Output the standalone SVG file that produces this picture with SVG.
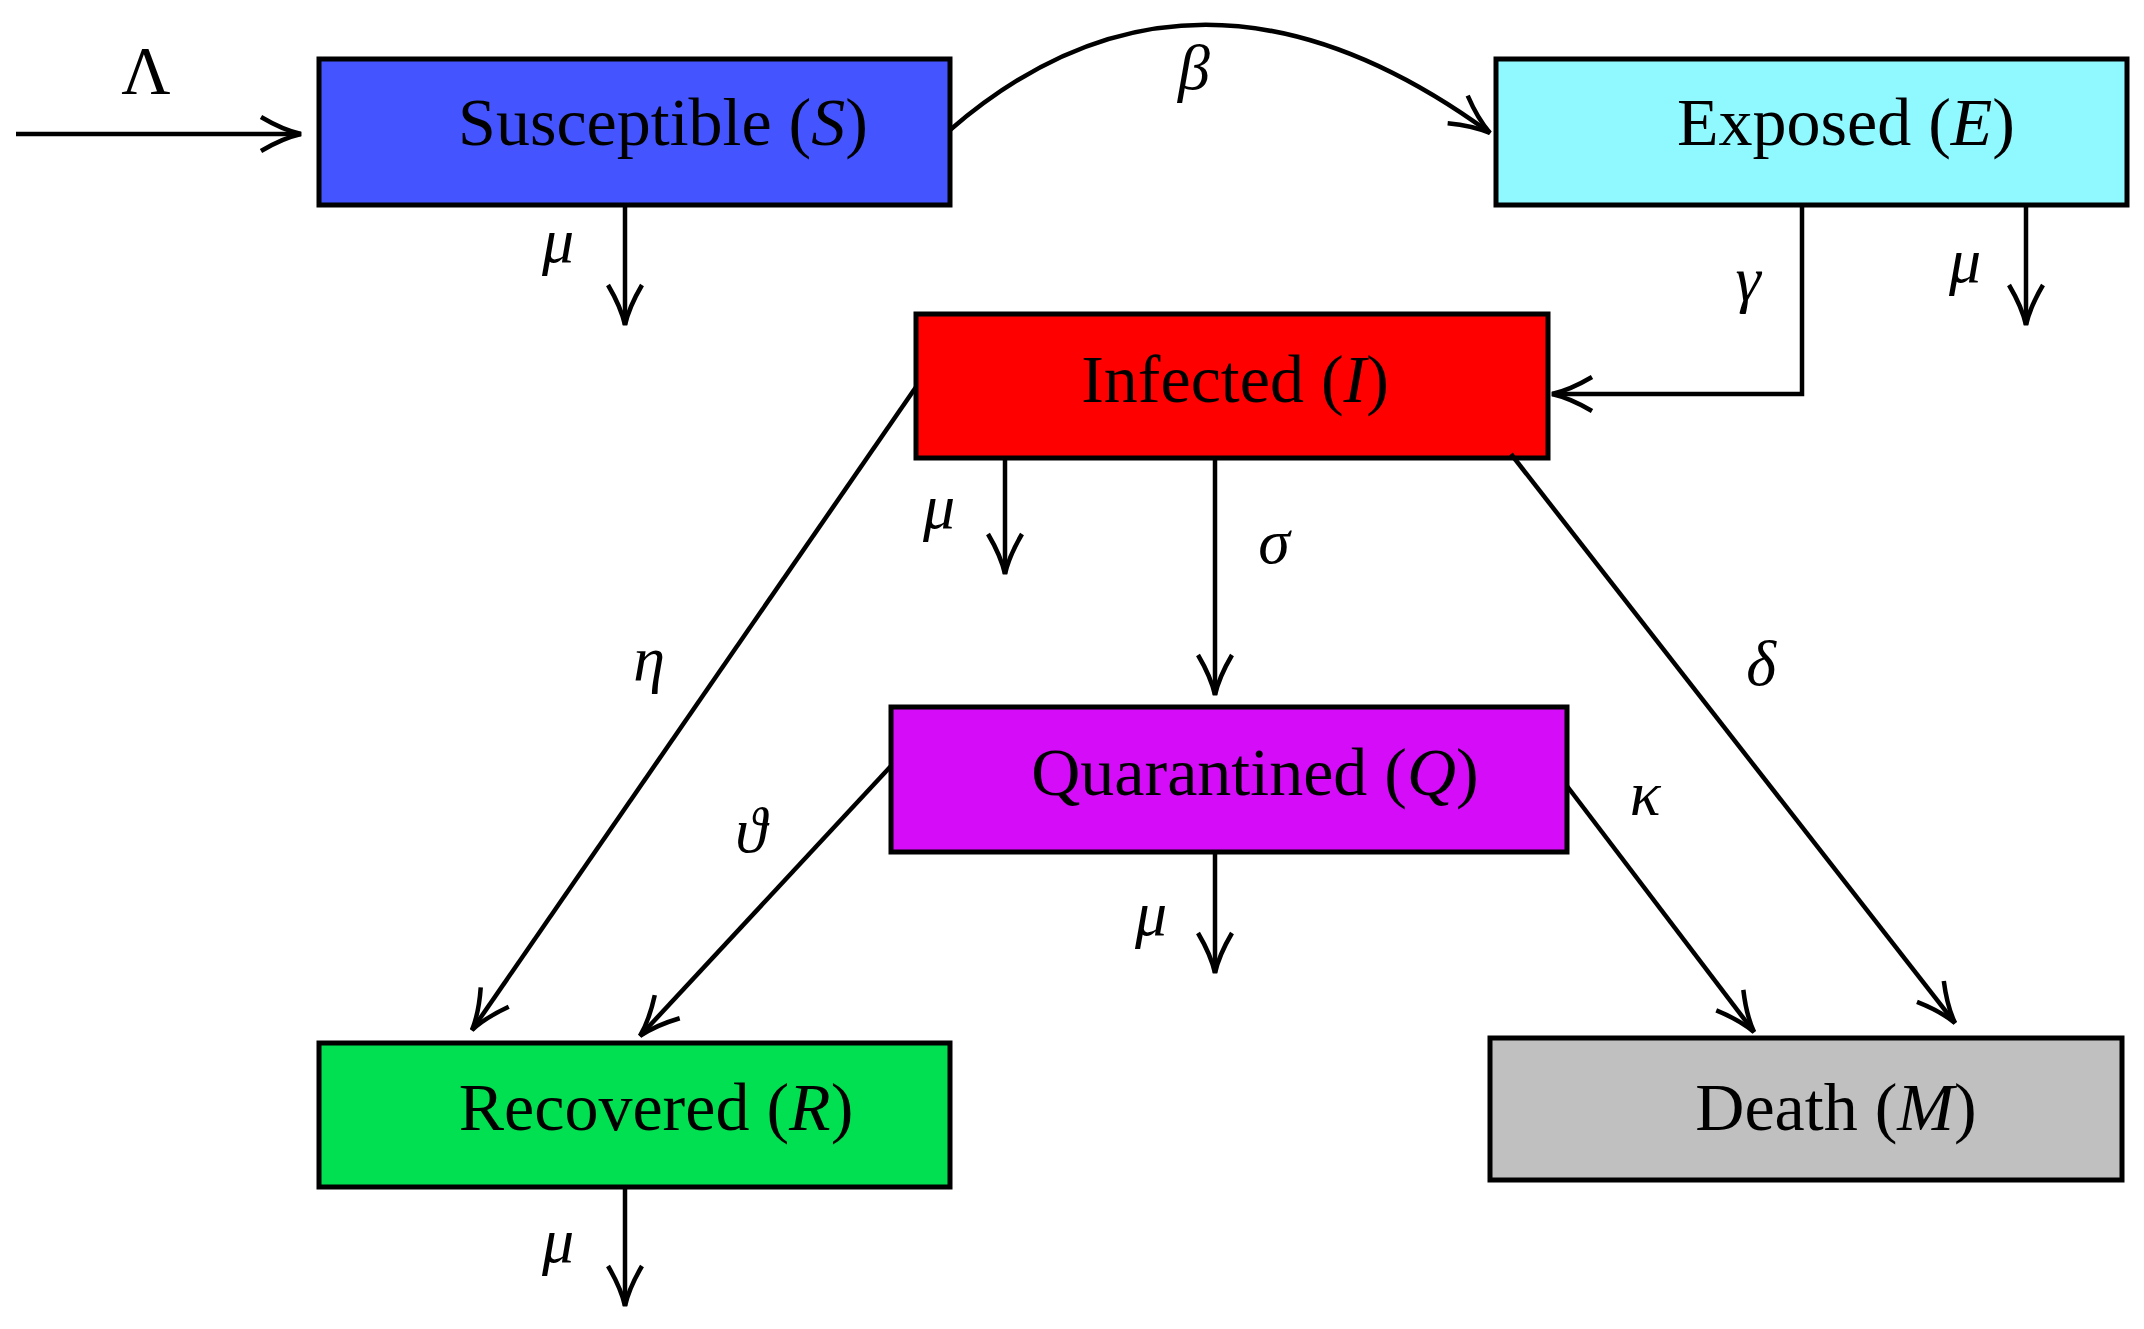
<svg xmlns="http://www.w3.org/2000/svg" width="2144" height="1329" viewBox="0 0 2144 1329">
<style>
.box{stroke:#000;stroke-width:5}
.t{font-family:"Liberation Serif","DejaVu Serif",serif;font-size:68px;text-anchor:middle;fill:#000}
.g{font-family:"Liberation Serif","DejaVu Serif",serif;font-size:64px;font-style:italic;text-anchor:middle;fill:#000}
.c{fill:none;stroke:#000;stroke-width:4.5;marker-end:url(#a)}
</style>
<defs>
<marker id="a" markerUnits="userSpaceOnUse" markerWidth="60" markerHeight="60" viewBox="-50 -25 60 50" refX="0" refY="0" orient="auto">
<path d="M-40,-17 Q-18,-4 0,0 Q-18,4 -40,17" fill="none" stroke="#000" stroke-width="4.5"/>
</marker>
</defs>
<rect width="2144" height="1329" fill="#fff"/>
<g id="S"><rect class="box" x="319" y="59" width="631" height="146" fill="#4455ff"/><text class="t" x="663" y="145">Susceptible (<tspan font-style="italic">S</tspan>)</text></g>
<g id="E"><rect class="box" x="1496" y="59" width="631" height="146" fill="#90f8ff"/><text class="t" x="1846" y="145">Exposed (<tspan font-style="italic">E</tspan>)</text></g>
<g id="I"><rect class="box" x="916" y="314" width="632" height="144" fill="#ff0000"/><text class="t" x="1235" y="402">Infected (<tspan font-style="italic">I</tspan>)</text></g>
<g id="Q"><rect class="box" x="891" y="707" width="676" height="145" fill="#d40cf8"/><text class="t" x="1255" y="795">Quarantined (<tspan font-style="italic">Q</tspan>)</text></g>
<g id="R"><rect class="box" x="319" y="1043" width="631" height="144" fill="#00e050"/><text class="t" x="656" y="1130">Recovered (<tspan font-style="italic">R</tspan>)</text></g>
<g id="M"><rect class="box" x="1490" y="1038" width="632" height="142" fill="#c0c0c0"/><text class="t" x="1836" y="1130">Death (<tspan font-style="italic">M</tspan>)</text></g>
<g id="connectors">
<path class="c" d="M16,134 L301,134"/>
<path class="c" d="M950,130 Q1195,-82 1490,133"/>
<path class="c" d="M625,205 L625,325"/>
<path class="c" d="M2026,205 L2026,325"/>
<path class="c" d="M1802,205 L1802,394 L1552,394"/>
<path class="c" d="M1005,458 L1005,574"/>
<path class="c" d="M1215,458 L1215,695"/>
<path class="c" d="M916,387 L472,1030"/>
<path class="c" d="M1511,454 L1955,1023"/>
<path class="c" d="M891,766 L640,1036"/>
<path class="c" d="M1567,786 L1754,1032"/>
<path class="c" d="M1215,852 L1215,973"/>
<path class="c" d="M625,1187 L625,1306"/>
<text class="t" x="146" y="93">Λ</text>
<text class="g" x="1194" y="89">β</text>
<text class="g" x="558" y="262">μ</text>
<text class="g" x="1965" y="282">μ</text>
<text class="g" x="1748" y="300">γ</text>
<text class="g" x="939" y="528">μ</text>
<text class="g" x="1274" y="563">σ</text>
<text class="g" x="649" y="680">η</text>
<text class="g" x="1761" y="685">δ</text>
<text class="g" x="751" y="852">ϑ</text>
<text class="g" x="1645" y="815">κ</text>
<text class="g" x="1151" y="935">μ</text>
<text class="g" x="558" y="1262">μ</text>
</g>
</svg>
